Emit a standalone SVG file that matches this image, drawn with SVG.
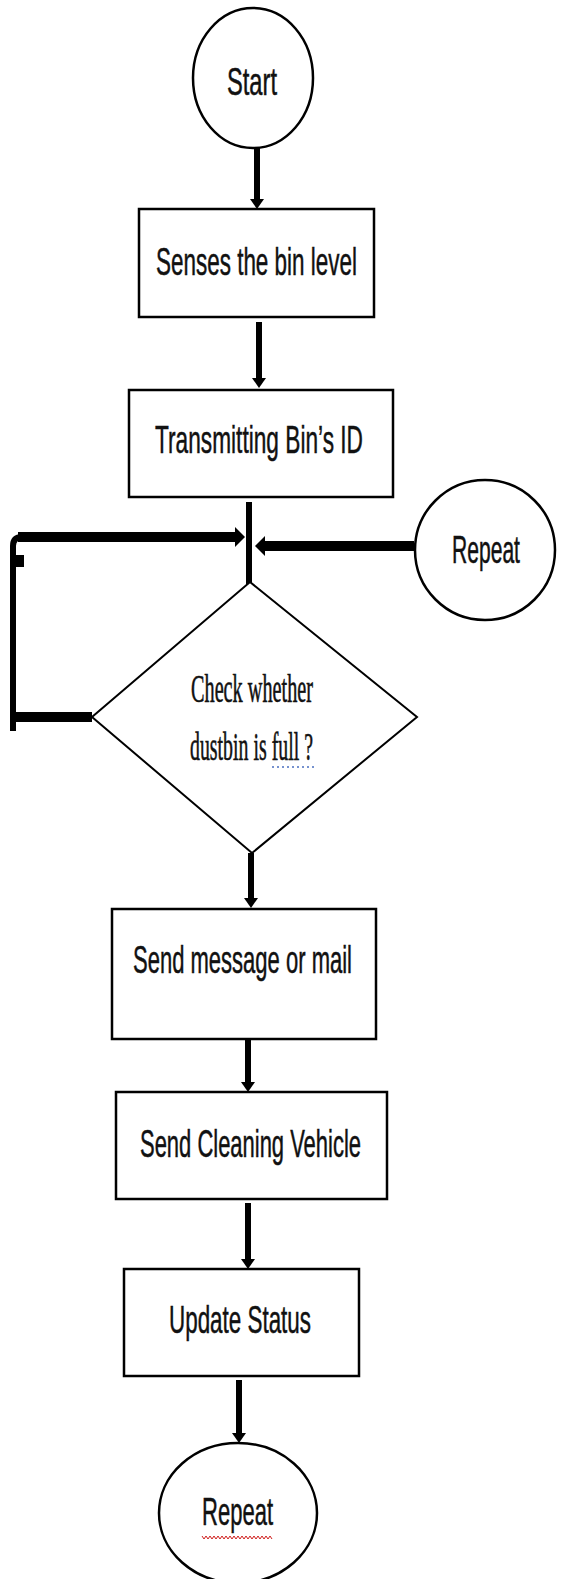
<svg xmlns="http://www.w3.org/2000/svg" width="561" height="1579" viewBox="0 0 561 1579">
<style>
.shape{fill:#fff;stroke:#000;stroke-width:2.5}
.dia{fill:#fff;stroke:#000;stroke-width:2}
.lbl{font-family:"Liberation Sans",Arial,sans-serif;font-size:38px;fill:#111;stroke:#111;stroke-width:0.5}
.ser{font-family:"Liberation Serif","Times New Roman",serif;font-size:40px;fill:#111;stroke:#111;stroke-width:0.6}
.v{stroke:#000;stroke-width:6;fill:none}
.h{stroke:#000;stroke-width:10;fill:none}
</style>
<defs>
<marker id="ah" markerUnits="userSpaceOnUse" viewBox="0 0 10 14" markerWidth="10" markerHeight="14" refX="0" refY="7" orient="auto">
<path d="M0,0 L10,7 L0,14 z" fill="#000"/>
</marker>
<marker id="ahs" markerUnits="userSpaceOnUse" viewBox="0 0 10 20" markerWidth="10" markerHeight="20" refX="0" refY="10" orient="auto">
<path d="M0,0 L10,10 L0,20 z" fill="#000"/>
</marker>
</defs>
<rect width="561" height="1579" fill="#fff"/>

<g id="connectors">
<line class="v" x1="257" y1="148" x2="257" y2="199" marker-end="url(#ah)"/>
<line class="v" x1="259" y1="322" x2="259" y2="378" marker-end="url(#ah)"/>
<line class="v" x1="249" y1="502" x2="249" y2="590" marker-end="url(#ah)"/>
<line class="h" x1="414" y1="546" x2="265" y2="546" marker-end="url(#ahs)"/>
<path class="h" d="M92 717 H13"/>
<path class="v" d="M13 731 V546 Q13 537 22 537"/>
<line class="h" x1="18" y1="537" x2="235" y2="537" marker-end="url(#ahs)"/>
<rect x="15" y="555" width="9" height="12" fill="#000"/>
<line class="v" x1="251" y1="853" x2="251" y2="898" marker-end="url(#ah)"/>
<line class="v" x1="248" y1="1035" x2="248" y2="1082" marker-end="url(#ah)"/>
<line class="v" x1="248" y1="1203" x2="248" y2="1259" marker-end="url(#ah)"/>
<line class="v" x1="239" y1="1380" x2="239" y2="1433" marker-end="url(#ah)"/>
</g>

<g id="start">
<ellipse class="shape" cx="253" cy="78" rx="60" ry="70"/>
<text class="lbl" x="227" y="95" textLength="50" lengthAdjust="spacingAndGlyphs">Start</text>
</g>

<g id="senses">
<rect class="shape" x="139" y="209" width="235" height="108"/>
<text class="lbl" x="156" y="275" textLength="201" lengthAdjust="spacingAndGlyphs">Senses the bin level</text>
</g>

<g id="transmit">
<rect class="shape" x="129" y="390" width="264" height="107"/>
<text class="lbl" x="155" y="453" textLength="208" lengthAdjust="spacingAndGlyphs">Transmitting Bin’s ID</text>
</g>

<g id="repeat-right">
<ellipse class="shape" cx="485" cy="550" rx="70" ry="70"/>
<text class="lbl" transform="translate(452 563) scale(0.555 1)" x="0" y="0">Repeat</text>
</g>

<g id="check">
<polygon class="dia" points="250,582 417,717 252,853 92,717"/>
<text class="ser" x="191" y="702" textLength="122" lengthAdjust="spacingAndGlyphs">Check whether</text>
<text class="ser" x="190" y="760" textLength="123" lengthAdjust="spacingAndGlyphs">dustbin is full ?</text>
<line x1="272" y1="767" x2="315" y2="767" stroke="#4a6fc0" stroke-width="1.5" stroke-dasharray="2,3"/>
</g>

<g id="send-msg">
<rect class="shape" x="112" y="909" width="264" height="130"/>
<text class="lbl" x="133" y="973" textLength="219" lengthAdjust="spacingAndGlyphs">Send message or mail</text>
</g>

<g id="send-vehicle">
<rect class="shape" x="116" y="1092" width="271" height="107"/>
<text class="lbl" x="140" y="1157" textLength="221" lengthAdjust="spacingAndGlyphs">Send Cleaning Vehicle</text>
</g>

<g id="update">
<rect class="shape" x="124" y="1269" width="235" height="107"/>
<text class="lbl" x="169" y="1333" textLength="142" lengthAdjust="spacingAndGlyphs">Update Status</text>
</g>

<g id="repeat-bottom">
<ellipse class="shape" cx="238" cy="1513" rx="79" ry="70"/>
<text class="lbl" x="202" y="1525" textLength="71" lengthAdjust="spacingAndGlyphs">Repeat</text>
<path d="M202 1536 l2 3 l2 -3 l2 3 l2 -3 l2 3 l2 -3 l2 3 l2 -3 l2 3 l2 -3 l2 3 l2 -3 l2 3 l2 -3 l2 3 l2 -3 l2 3 l2 -3 l2 3 l2 -3 l2 3 l2 -3 l2 3 l2 -3 l2 3 l2 -3 l2 3 l2 -3 l2 3 l2 -3 l2 3 l2 -3 l2 3 l2 -3 l2 3" fill="none" stroke="#d0201e" stroke-width="1"/>
</g>
</svg>
